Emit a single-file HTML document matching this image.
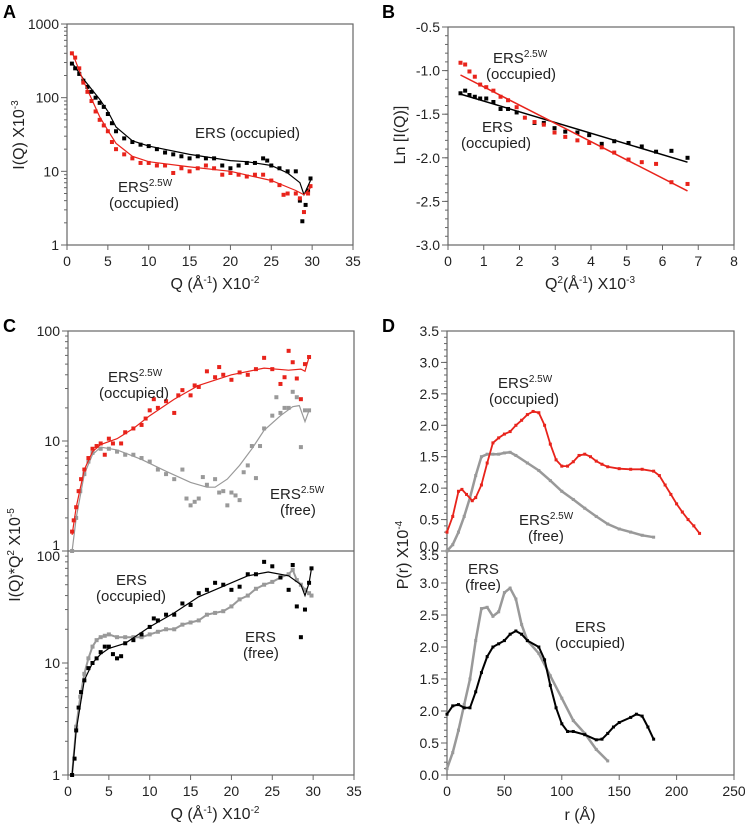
<!DOCTYPE html>
<html><head><meta charset="utf-8"><style>
body{margin:0;background:#fff}
svg{display:block;font-family:"Liberation Sans",Arial,sans-serif}
</style></head><body>
<svg id="s" width="745" height="824" viewBox="0 0 745 824"></svg>
<script>
// ---- Panel A data
const aBlackQ=[0.6,1,1.5,2,2.5,3,3.5,4,4.5,5,5.5,6,7,8,9,10,11,12,13,14,15,16,17,18,19,20,21,22,23,24,24.5,25,26,27,28,28.5,28.8,29.2,29.5,29.8];
const aBlackI=[290,250,210,170,140,120,100,85,75,60,45,35,28,25,23,22,20,18,17,16,15,16,15,15,12,11,12,13,13,15,14,12,11,10,10,4,2.1,3.5,5.5,8];
const aBlackFitQ=[0.6,2,4,5,6,8,10,15,20,22,25,27,28.5,29,29.8];
const aBlackFitI=[300,180,95,65,40,26,22,17,14,13.5,12,9.5,7,4.8,7.5];
const aRedQ=[0.6,1,1.5,2,2.5,3,3.5,4,4.5,5,5.5,6,7,8,9,10,11,12,13,14,15,16,17,18,19,20,21,22,23,24,25,26,26.5,27,28,28.5,29,29.5,29.8];
const aRedI=[400,350,250,160,120,90,65,50,42,35,25,20,17,15,13,13,12,12,9.5,11,10,11,12,11,9,9.5,9,8.5,9,9,7.5,6.5,4.8,5,5,4.3,2.8,5,6.3];
const aRedFitQ=[0.6,2,4,5,6,8,10,15,20,25,28,29,29.8];
const aRedFitI=[420,170,55,36,24,16,13.5,11.5,10,7.5,5.5,4.8,6];
// ---- Panel B data
const bBlackX=[0.35,0.48,0.6,0.75,0.9,1.07,1.27,1.47,1.68,1.92,2.42,2.68,2.98,3.28,3.62,3.95,4.3,4.65,5.05,5.42,5.82,6.25,6.7];
const bBlackY=[-1.26,-1.23,-1.28,-1.30,-1.32,-1.32,-1.36,-1.44,-1.44,-1.48,-1.60,-1.60,-1.66,-1.70,-1.71,-1.74,-1.84,-1.81,-1.83,-1.87,-1.93,-1.92,-2.00];
const bBlackFitX=[0.35,6.7], bBlackFitY=[-1.27,-2.05];
const bRedX=[0.35,0.48,0.6,0.75,0.9,1.07,1.27,1.47,1.68,1.92,2.15,2.42,2.68,2.98,3.28,3.62,3.95,4.3,4.65,5.05,5.42,5.82,6.25,6.7];
const bRedY=[-0.91,-0.93,-1.01,-1.07,-1.16,-1.19,-1.23,-1.30,-1.34,-1.42,-1.54,-1.59,-1.62,-1.71,-1.76,-1.80,-1.83,-1.88,-1.94,-2.02,-2.05,-2.07,-2.28,-2.30];
const bRedFitX=[0.35,6.7], bRedFitY=[-1.05,-2.38];
// ---- Panel C data
const cRedQ=[0.5,0.7,1,1.3,1.6,2,2.5,3,3.5,4,4.5,5,5.5,6.5,7,8,9,9.5,10,10.5,11,12,13,13.5,14,15,15.5,16,17,18,18.5,19,20,21,22,23,24,25,26,26.5,27,27.5,28,28.5,29,29.5];
const cRedV=[1.5,1.9,2.5,3.5,4.5,5.5,7,8.5,9,9.5,7.5,10.5,9.5,9.5,12,13,14,16,19,24,20,23,18,26,29,26,32,31,43,38,47,40,36,42,40,45,57,45,33,38,66,52,37,24,50,58];
const cRedFitQ=[0.5,1,2,3,4,6,8,10,13,16,20,24,27,28.5,29,29.5];
const cRedFitV=[1.4,2.5,5.5,8,9.3,10.5,13,17,24,32,40,46,44,45,43,58];
const cGrayQ=[0.5,1,1.5,2,2.5,3,4,5,6,7,8,9,10,11,12,13,14,14.5,15,15.5,16,16.5,17,18,18.5,19,19.5,20,20.5,21,21.5,22,22.5,23,23.5,24,25,25.5,26,26.5,27,27.5,28,28.5,29,29.5];
const cGrayV=[1,2,3.5,5,6.5,7.8,8.5,8.5,8,7.5,7.5,7,6.5,5.5,5,4.5,5.5,3,2.6,2.8,3,4.7,4,4.5,3.4,3.5,2.6,3.4,3.2,2.9,5.2,6,9,4.6,9,13,17,25,18,20,20,28,25,8.8,19,19];
const cGrayFitQ=[0.5,1,2,3,4,6,9,12,15,17,18,19.5,21,22.5,24,26,27.5,28.3,29,29.5];
const cGrayFitV=[1,2,5,7.5,8.8,8.3,6.8,5.3,4.2,3.8,3.8,4.5,6,8.5,12.5,17,20.5,21,15,19];
const cBlackQ=[0.5,0.8,1,1.3,1.6,2,2.5,3,3.5,4,4.5,5,5.5,6,6.5,7,8,9,10,10.5,11,12,13,14,15,16,17,18,19,20,21,22,23,24,25,26,27,27.5,28,28.5,29,29.5,29.8];
const cBlackV=[1,1.4,2.5,4,5.5,7,9,10,11,12.5,14,14,12,11,11.5,15,16,18,21,25,24,27,27,34,33,42,45,52,50,45,48,62,62,80,73,58,45,75,32,17,30,52,70];
const cBlackFitQ=[0.5,1,2,3,4,5,7,10,13,16,20,22,24.5,27,28.5,29,29.5,29.8];
const cBlackFitV=[1,2.5,7,10,12,13.5,15,21,28,39,52,60,65,60,50,40,52,70];
const cFreeQ=[0.5,1,1.5,2,2.5,3,3.5,4,4.5,5,6,7,8,9,10,11,12,13,14,15,16,17,18,19,20,21,22,23,24,25,26,27,27.5,28,28.5,29,29.5,29.8];
const cFreeV=[1,2.7,5,8,11,14,16,17,17.5,18,17,17,17,17,18,19,20,20,22,23,24,27,28,29,32,37,40,46,50,53,58,62,68,55,50,45,42,40];
// ---- Panel D data
const dRedR=[0,5,10,13,17,22,25,30,35,40,45,50,55,60,65,70,75,80,85,90,95,100,105,110,115,120,125,130,135,140,150,160,170,180,185,190,195,200,205,210,215,220];
const dRedP=[0.3,0.55,0.95,0.98,0.9,0.8,0.85,1.05,1.4,1.72,1.8,1.86,1.9,2.0,2.08,2.17,2.22,2.2,2.0,1.7,1.45,1.35,1.35,1.42,1.52,1.54,1.5,1.43,1.38,1.34,1.31,1.3,1.3,1.27,1.2,1.05,0.9,0.75,0.62,0.5,0.4,0.28];
const dGrayR=[0,5,10,15,20,25,30,35,40,45,50,55,60,70,80,90,100,110,120,130,140,150,160,170,180];
const dGrayP=[0,0.1,0.3,0.55,0.85,1.2,1.5,1.54,1.54,1.54,1.56,1.57,1.52,1.4,1.28,1.12,0.95,0.82,0.68,0.55,0.43,0.35,0.3,0.25,0.22];
const dFreeR=[0,5,10,15,20,25,30,35,40,45,50,55,60,65,70,80,90,100,110,120,130,140];
const dFreeP=[0.1,0.35,0.7,1.1,1.5,2.1,2.6,2.62,2.48,2.55,2.85,2.92,2.75,2.35,2.1,1.9,1.55,1.2,0.85,0.65,0.4,0.22];
const dBlackR=[0,5,10,15,20,25,30,35,40,45,50,55,60,65,70,80,85,90,95,100,105,110,120,130,135,140,145,150,160,165,170,175,180];
const dBlackP=[0.95,1.08,1.1,1.05,1.05,1.3,1.6,1.85,2.0,2.05,2.1,2.2,2.25,2.2,2.1,2.0,1.8,1.4,1.05,0.8,0.68,0.68,0.63,0.55,0.56,0.65,0.75,0.82,0.9,0.95,0.92,0.75,0.56];

const S=document.getElementById('s');
const NS='http://www.w3.org/2000/svg';
const FT=14, FL=15, FA=16;
function el(tag,attrs,parent){const e=document.createElementNS(NS,tag);for(const k in attrs)e.setAttribute(k,attrs[k]);(parent||S).appendChild(e);return e;}
function lin(d0,d1,p0,p1){return v=>p0+(v-d0)/(d1-d0)*(p1-p0);}
function logs(d0,d1,p0,p1){return v=>p0+(Math.log10(v)-Math.log10(d0))/(Math.log10(d1)-Math.log10(d0))*(p1-p0);}
function txt(x,y,s,opt,name){const t=el('text',Object.assign({x:x,y:y,'font-size':FL,fill:'#222'},opt||{}));t.innerHTML=s;

return t;}
function box(x0,y0,x1,y1,name){const r=el('rect',{x:x0,y:y0,width:x1-x0,height:y1-y0,fill:'none',stroke:'#666','stroke-width':1.2});

}
function line(xs,ys,fx,fy,color,name,w){const p=xs.map((v,i)=>fx(v).toFixed(1)+','+fy(ys[i]).toFixed(1)).join(' ');
const e=el('polyline',{points:p,fill:'none',stroke:color,'stroke-width':w||1.2});

}
function pts(xs,ys,fx,fy,color,name,sz){const g=el('g',{fill:color});


const s=sz||4;xs.forEach((v,i)=>{el('rect',{x:fx(v)-s/2,y:fy(ys[i])-s/2,width:s,height:s},g);});}
function xTicks(x0,x1,yb,vals,fx,name){const g=el('g',{});
vals.forEach(v=>{const x=fx(v);el('line',{x1:x,x2:x,y1:yb,y2:yb+5,stroke:'#666'},g);
const t=el('text',{x:x,y:yb+21,'font-size':FT,'text-anchor':'middle',fill:'#222'},g);t.textContent=v;});}
function yTicksLin(x,vals,fy,labels,minor,name,dys){const g=el('g',{});
vals.forEach((v,i)=>{const y=fy(v);el('line',{x1:x-6,x2:x,y1:y,y2:y,stroke:'#666'},g);
const t=el('text',{x:x-8,y:y+5+((dys&&dys[i])||0),'font-size':FT,'text-anchor':'end',fill:'#222'},g);t.textContent=labels[i];});
(minor||[]).forEach(v=>{const y=fy(v);el('line',{x1:x-3,x2:x,y1:y,y2:y,stroke:'#666'},g);});}
function yTicksLog(x,dec,fy,labels,name,dys){const g=el('g',{});
dec.forEach((d,i)=>{const y=fy(d);el('line',{x1:x-6,x2:x,y1:y,y2:y,stroke:'#666'},g);
const t=el('text',{x:x-8,y:y+5+((dys&&dys[i])||0),'font-size':FT,'text-anchor':'end',fill:'#222'},g);t.textContent=labels[i];
if(i<dec.length-1)for(let k=2;k<10;k++){const yy=fy(d*k);el('line',{x1:x-3,x2:x,y1:yy,y2:yy,stroke:'#666'},g);}});}

// Panel letters
txt(3,18,'A',{'font-size':18,'font-weight':'bold',fill:'#000'},'panel-a-letter');
txt(382,18,'B',{'font-size':18,'font-weight':'bold',fill:'#000'},'panel-b-letter');
txt(3,332,'C',{'font-size':18,'font-weight':'bold',fill:'#000'},'panel-c-letter');
txt(382,332,'D',{'font-size':18,'font-weight':'bold',fill:'#000'},'panel-d-letter');

// ---- Panel A
{const fx=lin(0,35,67,353), fy=logs(1,1000,245,24);
box(67,24,353,245,'panel-a-plot-area');
yTicksLog(67,[1,10,100,1000],fy,['1','10','100','1000'],'panel-a-y-ticks');
xTicks(67,353,245,[0,5,10,15,20,25,30,35],fx,'panel-a-x-ticks');
pts(aBlackQ,aBlackI,fx,fy,'#000','ers-occupied-points');
pts(aRedQ,aRedI,fx,fy,'#e8231b','ers25w-occupied-points');
line(aBlackFitQ,aBlackFitI,fx,fy,'#000','ers-occupied-fit');
line(aRedFitQ,aRedFitI,fx,fy,'#e8231b','ers25w-occupied-fit');
txt(195,138,'ERS (occupied)',{},'ers-occupied-label');
txt(118,192,'ERS<tspan font-size="10" dy="-6">2.5W</tspan>',{},'ers25w-label');
txt(109,208,'(occupied)',{},'ers25w-occupied-sublabel');
txt(215,289,'Q (Å<tspan font-size="10" dy="-6">-1</tspan><tspan dy="6">) X10</tspan><tspan font-size="10" dy="-6">-2</tspan>',{'font-size':FA,'text-anchor':'middle'},'panel-a-x-title');
txt(0,0,'I(Q) X10<tspan font-size="10" dy="-6">-3</tspan>',{'font-size':FA,'text-anchor':'middle',transform:'translate(24,135) rotate(-90)'},'panel-a-y-title');}

// ---- Panel B
{const fx=lin(0,8,448,734), fy=lin(-3,-0.5,245,27);
box(448,27,734,245,'panel-b-plot-area');
const mn=[];for(let v=-3;v<=-0.5;v+=0.1)mn.push(v);
yTicksLin(448,[-3,-2.5,-2,-1.5,-1,-0.5],fy,['-3.0','-2.5','-2.0','-1.5','-1.0','-0.5'],mn,'panel-b-y-ticks');
xTicks(448,734,245,[0,1,2,3,4,5,6,7,8],fx,'panel-b-x-ticks');
pts(bBlackX,bBlackY,fx,fy,'#000','ers-occupied-guinier-points');
pts(bRedX,bRedY,fx,fy,'#e8231b','ers25w-occupied-guinier-points');
line(bBlackFitX,bBlackFitY,fx,fy,'#000','ers-guinier-fit',1.5);
line(bRedFitX,bRedFitY,fx,fy,'#e8231b','ers25w-guinier-fit',1.5);
txt(493,63,'ERS<tspan font-size="10" dy="-6">2.5W</tspan>',{},'ers25w-label-b');
txt(486,79,'(occupied)',{},'ers25w-occupied-sublabel-b');
txt(482,132,'ERS',{},'ers-label-b');
txt(461,148,'(occupied)',{},'ers-occupied-sublabel-b');
txt(590,289,'Q<tspan font-size="10" dy="-6">2</tspan><tspan dy="6">(Å</tspan><tspan font-size="10" dy="-6">-1</tspan><tspan dy="6">) X10</tspan><tspan font-size="10" dy="-6">-3</tspan>',{'font-size':FA,'text-anchor':'middle'},'panel-b-x-title');
txt(0,0,'Ln [I(Q)]',{'font-size':FA,'text-anchor':'middle',transform:'translate(405,135) rotate(-90)'},'panel-b-y-title');}

// ---- Panel C
{const fx=lin(0,35,68,354), fyU=logs(1,100,551,331), fyL=logs(1,100,775,551);
box(68,331,354,775,'panel-c-plot-area');
el('line',{x1:68,x2:354,y1:551,y2:551,stroke:'#666','stroke-width':1.2});
yTicksLog(68,[1,10,100],fyU,['1','10','100'],'panel-c-upper-y-ticks',[-6,0,0]);
yTicksLog(68,[1,10,100],fyL,['1','10','100'],'panel-c-lower-y-ticks',[0,0,5]);
xTicks(68,354,775,[0,5,10,15,20,25,30,35],fx,'panel-c-x-ticks');
pts(cGrayQ,cGrayV,fx,fyU,'#999','ers25w-free-kratky-points');
line(cGrayFitQ,cGrayFitV,fx,fyU,'#999','ers25w-free-kratky-fit');
pts(cRedQ,cRedV,fx,fyU,'#e8231b','ers25w-occupied-kratky-points');
line(cRedFitQ,cRedFitV,fx,fyU,'#e8231b','ers25w-occupied-kratky-fit');
pts(cFreeQ,cFreeV,fx,fyL,'#999','ers-free-kratky-points');
line(cFreeQ,cFreeV,fx,fyL,'#999','ers-free-kratky-fit',2);
pts(cBlackQ,cBlackV,fx,fyL,'#000','ers-occupied-kratky-points');
line(cBlackFitQ,cBlackFitV,fx,fyL,'#000','ers-occupied-kratky-fit');
txt(108,382,'ERS<tspan font-size="10" dy="-6">2.5W</tspan>',{},'c-ers25w-occ-label');
txt(99,398,'(occupied)',{},'c-ers25w-occ-sublabel');
txt(270,499,'ERS<tspan font-size="10" dy="-6">2.5W</tspan>',{},'c-ers25w-free-label');
txt(280,515,'(free)',{},'c-ers25w-free-sublabel');
txt(116,585,'ERS',{},'c-ers-occ-label');
txt(96,601,'(occupied)',{},'c-ers-occ-sublabel');
txt(245,642,'ERS',{},'c-ers-free-label');
txt(243,658,'(free)',{},'c-ers-free-sublabel');
txt(215,819,'Q (Å<tspan font-size="10" dy="-6">-1</tspan><tspan dy="6">) X10</tspan><tspan font-size="10" dy="-6">-2</tspan>',{'font-size':FA,'text-anchor':'middle'},'panel-c-x-title');
txt(0,0,'I(Q)*Q<tspan font-size="10" dy="-6">2</tspan><tspan dy="6"> X10</tspan><tspan font-size="10" dy="-6">-5</tspan>',{'font-size':FA,'text-anchor':'middle',transform:'translate(20,555) rotate(-90)'},'panel-c-y-title');}

// ---- Panel D
{const fx=lin(0,250,447,734), fyU=lin(0,3.5,551,331), fyL=lin(0,3.5,775,551);
box(447,331,734,775,'panel-d-plot-area');
el('line',{x1:447,x2:734,y1:551,y2:551,stroke:'#666','stroke-width':1.2});
const v=[0,0.5,1,1.5,2,2.5,3,3.5], lb=['0.0','0.5','2.0','1.5','2.0','2.5','3.0','3.5'];
const mn=[];for(let k=0;k<=35;k++)mn.push(k/10);
yTicksLin(447,v,fyU,lb,mn,'panel-d-upper-y-ticks',[-5,0,0,0,0,0,0,0]);
yTicksLin(447,v,fyL,lb,mn,'panel-d-lower-y-ticks',[0,0,0,0,0,0,0,4]);
xTicks(447,734,775,[0,50,100,150,200,250],fx,'panel-d-x-ticks');
line(dGrayR,dGrayP,fx,fyU,'#999','ers25w-free-pr-line',2.5);
pts(dGrayR,dGrayP,fx,fyU,'#999','ers25w-free-pr-points',3);
line(dRedR,dRedP,fx,fyU,'#e8231b','ers25w-occupied-pr-line',1.8);
pts(dRedR,dRedP,fx,fyU,'#e8231b','ers25w-occupied-pr-points',3);
line(dFreeR,dFreeP,fx,fyL,'#999','ers-free-pr-line',2.5);
pts(dFreeR,dFreeP,fx,fyL,'#999','ers-free-pr-points',3);
line(dBlackR,dBlackP,fx,fyL,'#000','ers-occupied-pr-line',2);
pts(dBlackR,dBlackP,fx,fyL,'#000','ers-occupied-pr-points',3);
txt(498,388,'ERS<tspan font-size="10" dy="-6">2.5W</tspan>',{},'d-ers25w-occ-label');
txt(489,404,'(occupied)',{},'d-ers25w-occ-sublabel');
txt(519,525,'ERS<tspan font-size="10" dy="-6">2.5W</tspan>',{},'d-ers25w-free-label');
txt(528,541,'(free)',{},'d-ers25w-free-sublabel');
txt(468,574,'ERS',{},'d-ers-free-label');
txt(465,590,'(free)',{},'d-ers-free-sublabel');
txt(575,632,'ERS',{},'d-ers-occ-label');
txt(555,648,'(occupied)',{},'d-ers-occ-sublabel');
txt(580,820,'r (Å)',{'font-size':FA,'text-anchor':'middle'},'panel-d-x-title');
txt(0,0,'P(r) X10<tspan font-size="10" dy="-6">-4</tspan>',{'font-size':FA,'text-anchor':'middle',transform:'translate(408,555) rotate(-90)'},'panel-d-y-title');}
</script>
</body></html>
